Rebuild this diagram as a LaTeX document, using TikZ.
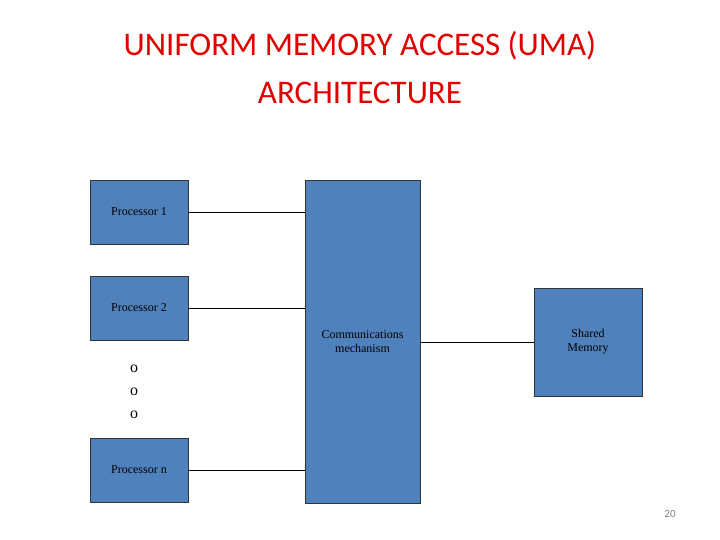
\documentclass[tikz,border=0pt]{standalone}
\usepackage{fontspec}
\setmainfont{Liberation Serif}
\newfontfamily\titlefont{Carlito}
\definecolor{boxblue}{HTML}{4F81BD}
\definecolor{titlered}{HTML}{E00000}
\begin{document}
\begin{tikzpicture}[x=1pt,y=-1pt,
  blk/.style={draw=black!80,fill=boxblue,inner sep=0pt,font=\fontsize{12}{14}\selectfont,align=center},
  link/.style={draw=black,line width=0.6pt}]
\useasboundingbox (0,0) rectangle (720,540);
% title
\node[titlered,font=\titlefont\fontsize{33}{48}\selectfont,align=center] (title) at (360,68)
  {UNIFORM MEMORY ACCESS (UMA)\\ARCHITECTURE};
% boxes
\node[blk,minimum width=98pt,minimum height=64pt] (p1) at (139,212) {Processor 1};
\node[blk,minimum width=98pt,minimum height=64pt] (p2) at (139,308) {Processor 2};
\node[blk,minimum width=98pt,minimum height=64pt] (pn) at (139,470) {Processor n};
\node[blk,minimum width=115pt,minimum height=323pt] (comm) at (362.5,341.5) {};
\node[font=\fontsize{12}{14}\selectfont,align=center] (commt) at (362.5,342) {Communications\\mechanism};
\node[blk,minimum width=108pt,minimum height=108pt] (mem) at (588,342) {Shared\\Memory};
% dots
\node[font=\fontsize{16}{16}\selectfont] (d1) at (134,369) {o};
\node[font=\fontsize{16}{16}\selectfont] (d2) at (134,392) {o};
\node[font=\fontsize{16}{16}\selectfont] (d3) at (134,415) {o};
% connectors
\draw[link] (p1.east) -- (comm.west |- p1.east);
\draw[link] (p2.east) -- (comm.west |- p2.east);
\draw[link] (pn.east) -- (comm.west |- pn.east);
\draw[link] (comm.east |- mem.west) -- (mem.west);
% page number
\node[gray,font=\titlefont\fontsize{11}{12}\selectfont] (num) at (670,514) {20};
\end{tikzpicture}
\end{document}
